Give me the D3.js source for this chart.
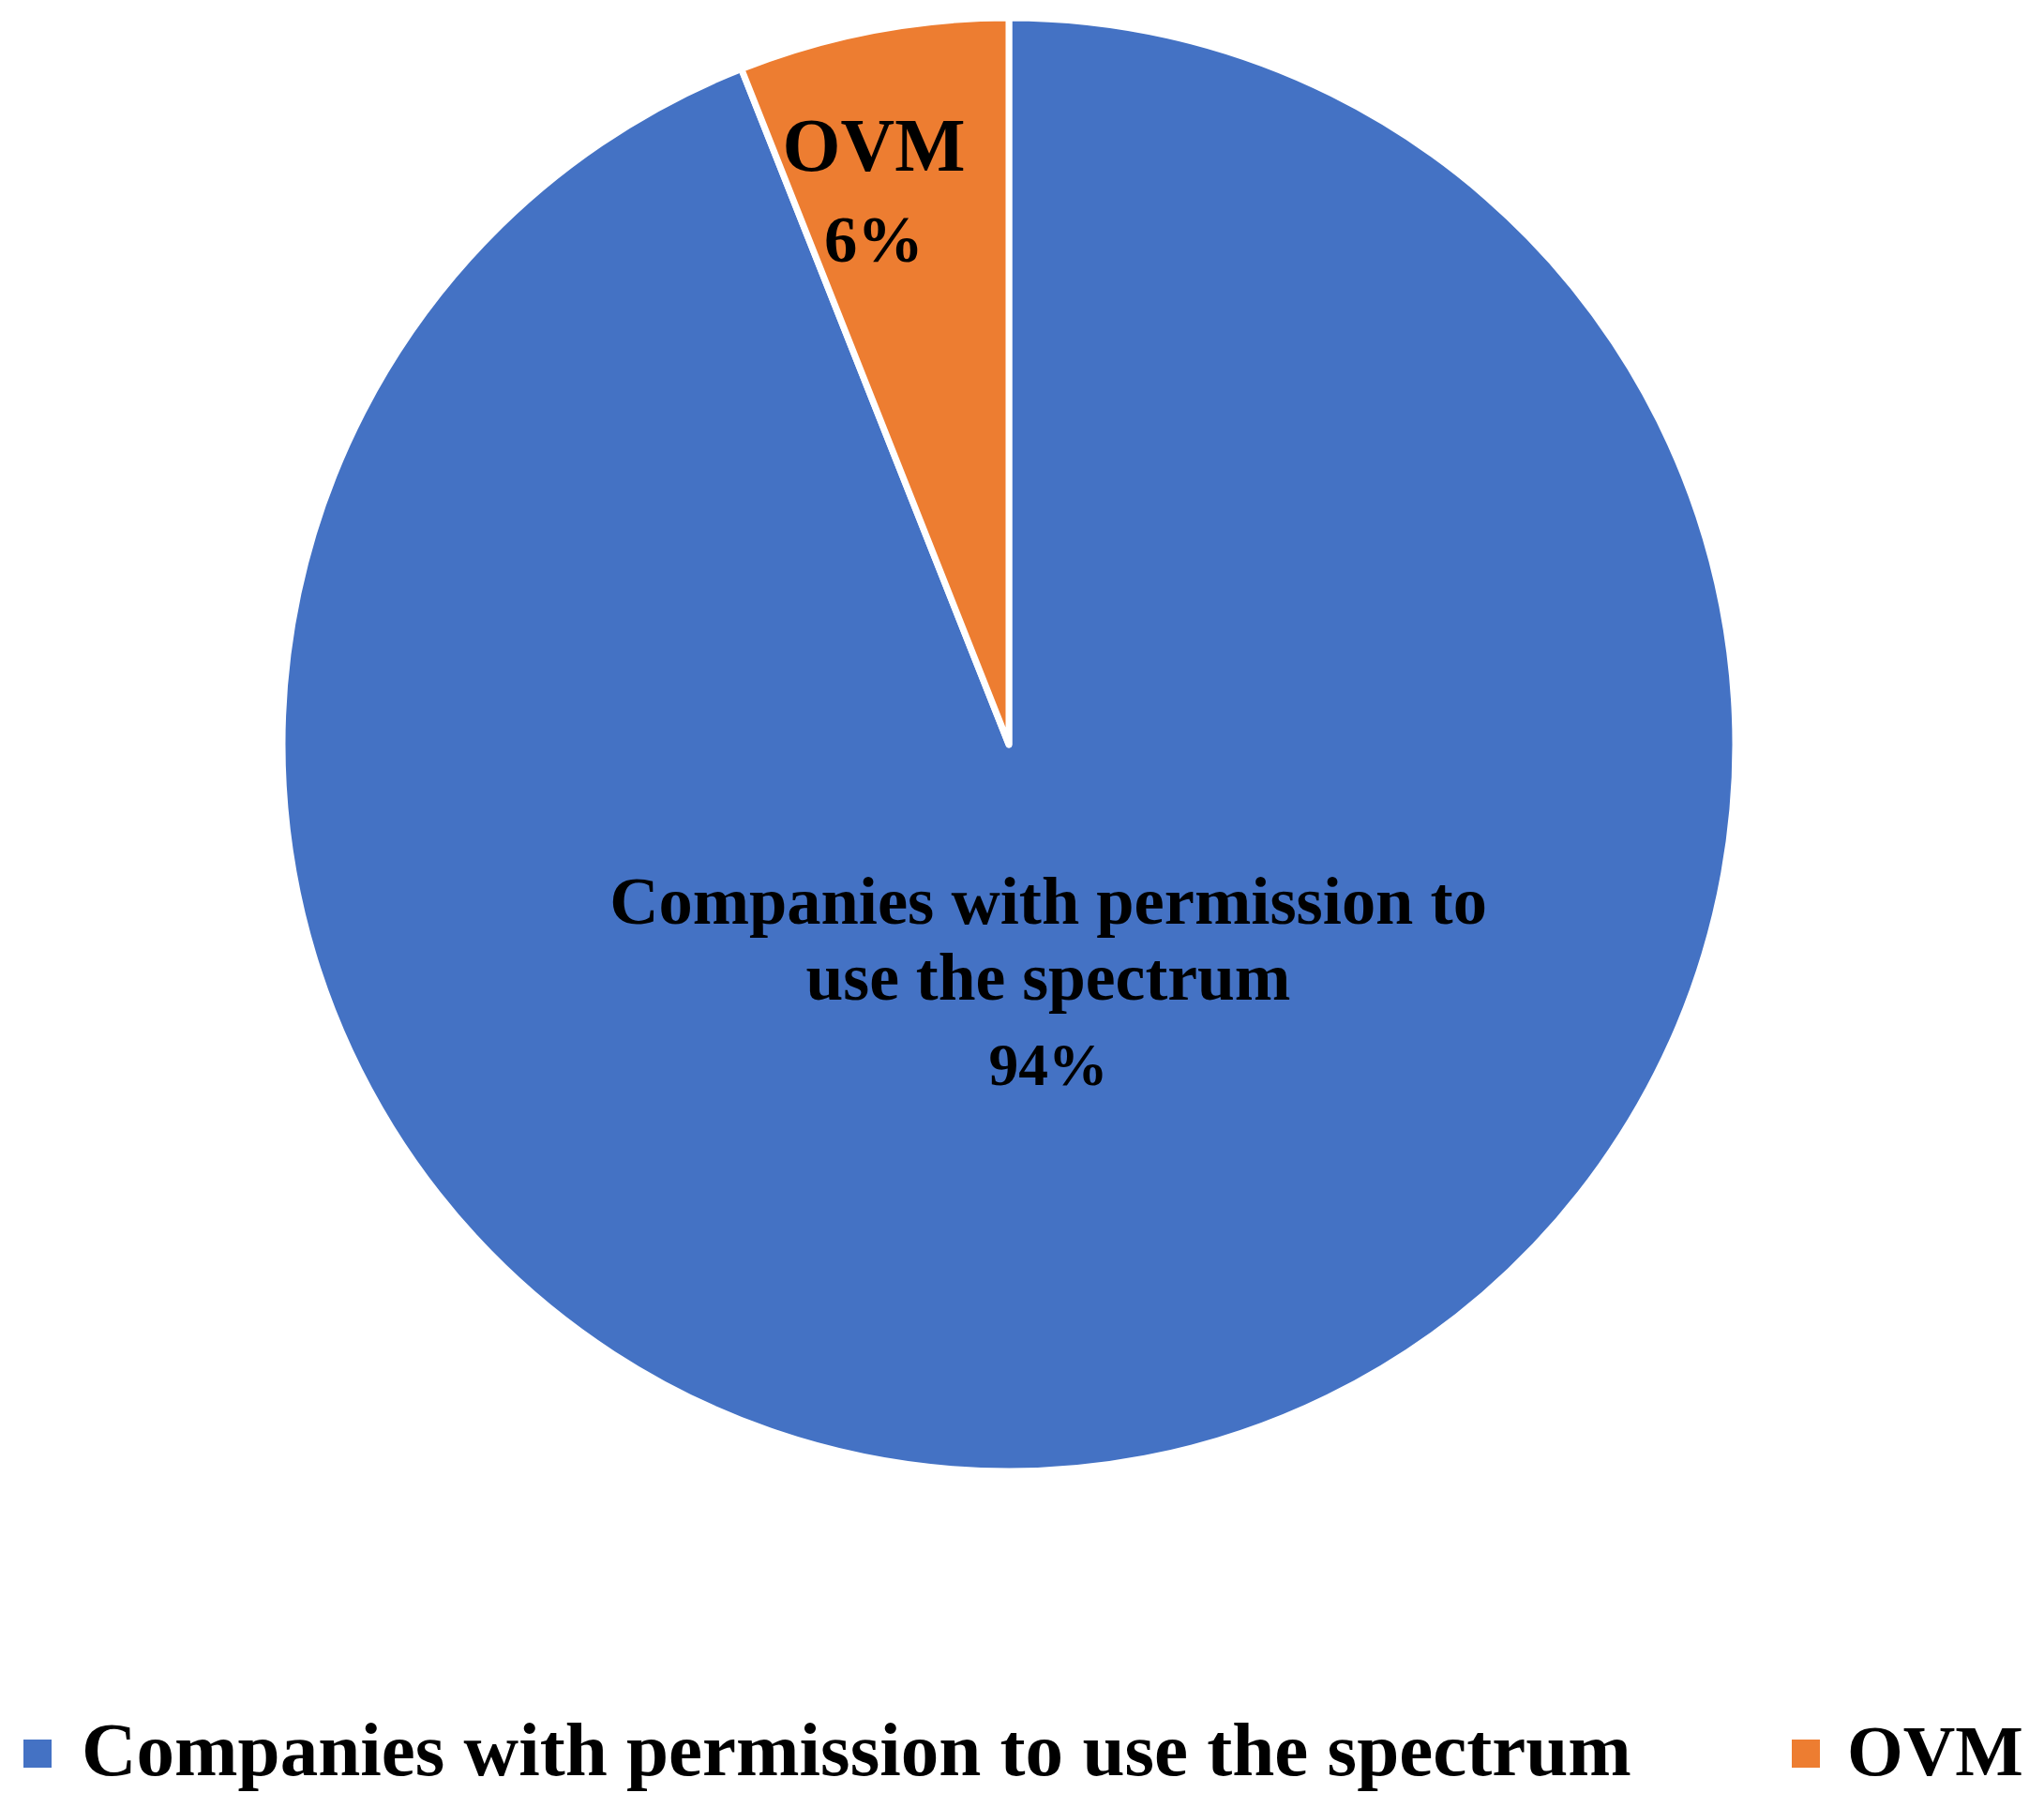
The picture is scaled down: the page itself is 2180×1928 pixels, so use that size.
<!DOCTYPE html><html><head><meta charset="utf-8"><script src="https://cdn.jsdelivr.net/npm/d3@7"></script>
<style>body{margin:0;background:#fff}text{font-family:"Liberation Serif","DejaVu Serif",serif;font-weight:bold}</style></head><body>
<script>
const categories=["Companies with permission to use the spectrum","OVM"];
const values=[94,6];
const pctLabels=["94%","6%"];
const colors=["#4472C4","#ED7D31"];
const W=2180,H=1928,cx=1076,cy=794,r=775;
const svg=d3.select("body").append("svg").attr("width",W).attr("height",H);
const pie=d3.pie().sort(null)(values);
const arc=d3.arc().innerRadius(0).outerRadius(r);
const g=svg.append("g").attr("transform",`translate(${cx},${cy})`);
g.selectAll("path").data(pie).join("path").attr("d",arc).attr("fill",(d,i)=>colors[i]).attr("stroke","#fff").attr("stroke-width",7).attr("stroke-linejoin","round");
function fit(t,w){const l=t.node().getComputedTextLength();const fs=parseFloat(t.attr("font-size"));t.attr("font-size",fs*w/l);}
// main label
const ml=[["Companies with permission to",985,936],["use the spectrum",1066,517],[pctLabels[0],1157,127]];
ml.forEach(([s,y,w])=>{const t=svg.append("text").attr("x",1118).attr("y",y).attr("text-anchor","middle").attr("font-size",60).text(s);fit(t,w);});
const ol=[[categories[1],182,195],[pctLabels[1],279,106]];
ol.forEach(([s,y,w])=>{const t=svg.append("text").attr("x",932).attr("y",y).attr("text-anchor","middle").attr("font-size",60).text(s);fit(t,w);});
// legend
const leg=[[25,87,1653],[1911,1970,188]];
categories.forEach((c,i)=>{
 svg.append("rect").attr("x",leg[i][0]).attr("y",1855).attr("width",30).attr("height",30).attr("fill",colors[i]);
 const t=svg.append("text").attr("x",leg[i][1]).attr("y",1893).attr("font-size",66).text(c);fit(t,leg[i][2]);
});
</script></body></html>
